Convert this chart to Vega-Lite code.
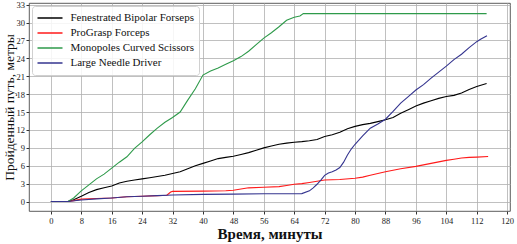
{
  "$schema": "https://vega.github.io/schema/vega-lite/v6.json",
  "autosize": {"type": "none"},
  "width": 481,
  "height": 208,
  "padding": {"left": 29, "top": 3, "right": 7, "bottom": 33},
  "background": "white",
  "config": {
    "font": "Liberation Serif",
    "view": {"stroke": "#333", "strokeWidth": 0.8},
    "axis": {
      "labelFont": "Liberation Serif",
      "titleFont": "Liberation Serif",
      "labelColor": "#222",
      "titleColor": "#111",
      "gridColor": "#b0b0b0",
      "gridWidth": 0.8,
      "gridOpacity": 1,
      "domain": false,
      "tickColor": "#333",
      "tickSize": 3,
      "labelFontSize": 8.5
    },
    "legend": {
      "labelFont": "Liberation Serif"
    }
  },
  "data": {
    "values": [
      {"s": "Fenestrated Bipolar Forseps", "t": 0, "d": 0},
      {"s": "Fenestrated Bipolar Forseps", "t": 4.5, "d": 0},
      {"s": "Fenestrated Bipolar Forseps", "t": 6, "d": 0.3},
      {"s": "Fenestrated Bipolar Forseps", "t": 8, "d": 0.9},
      {"s": "Fenestrated Bipolar Forseps", "t": 10, "d": 1.5},
      {"s": "Fenestrated Bipolar Forseps", "t": 12, "d": 2.0},
      {"s": "Fenestrated Bipolar Forseps", "t": 14, "d": 2.3},
      {"s": "Fenestrated Bipolar Forseps", "t": 16, "d": 2.6},
      {"s": "Fenestrated Bipolar Forseps", "t": 18, "d": 3.1},
      {"s": "Fenestrated Bipolar Forseps", "t": 20, "d": 3.4},
      {"s": "Fenestrated Bipolar Forseps", "t": 22, "d": 3.6},
      {"s": "Fenestrated Bipolar Forseps", "t": 24, "d": 3.8},
      {"s": "Fenestrated Bipolar Forseps", "t": 26, "d": 4.0},
      {"s": "Fenestrated Bipolar Forseps", "t": 28, "d": 4.2},
      {"s": "Fenestrated Bipolar Forseps", "t": 30, "d": 4.4},
      {"s": "Fenestrated Bipolar Forseps", "t": 32, "d": 4.7},
      {"s": "Fenestrated Bipolar Forseps", "t": 34, "d": 5.0},
      {"s": "Fenestrated Bipolar Forseps", "t": 36, "d": 5.5},
      {"s": "Fenestrated Bipolar Forseps", "t": 38, "d": 6.0},
      {"s": "Fenestrated Bipolar Forseps", "t": 40, "d": 6.4},
      {"s": "Fenestrated Bipolar Forseps", "t": 42, "d": 6.8},
      {"s": "Fenestrated Bipolar Forseps", "t": 44, "d": 7.2},
      {"s": "Fenestrated Bipolar Forseps", "t": 46, "d": 7.4},
      {"s": "Fenestrated Bipolar Forseps", "t": 48, "d": 7.6},
      {"s": "Fenestrated Bipolar Forseps", "t": 50, "d": 7.9},
      {"s": "Fenestrated Bipolar Forseps", "t": 52, "d": 8.2},
      {"s": "Fenestrated Bipolar Forseps", "t": 54, "d": 8.6},
      {"s": "Fenestrated Bipolar Forseps", "t": 56, "d": 9.0},
      {"s": "Fenestrated Bipolar Forseps", "t": 58, "d": 9.3},
      {"s": "Fenestrated Bipolar Forseps", "t": 60, "d": 9.6},
      {"s": "Fenestrated Bipolar Forseps", "t": 62, "d": 9.8},
      {"s": "Fenestrated Bipolar Forseps", "t": 64, "d": 9.95},
      {"s": "Fenestrated Bipolar Forseps", "t": 66, "d": 10.05},
      {"s": "Fenestrated Bipolar Forseps", "t": 68, "d": 10.2},
      {"s": "Fenestrated Bipolar Forseps", "t": 70, "d": 10.4},
      {"s": "Fenestrated Bipolar Forseps", "t": 72, "d": 10.9},
      {"s": "Fenestrated Bipolar Forseps", "t": 74, "d": 11.2},
      {"s": "Fenestrated Bipolar Forseps", "t": 76, "d": 11.6},
      {"s": "Fenestrated Bipolar Forseps", "t": 78, "d": 12.2},
      {"s": "Fenestrated Bipolar Forseps", "t": 80, "d": 12.6},
      {"s": "Fenestrated Bipolar Forseps", "t": 82, "d": 12.9},
      {"s": "Fenestrated Bipolar Forseps", "t": 84, "d": 13.1},
      {"s": "Fenestrated Bipolar Forseps", "t": 86, "d": 13.4},
      {"s": "Fenestrated Bipolar Forseps", "t": 88, "d": 13.7},
      {"s": "Fenestrated Bipolar Forseps", "t": 90, "d": 14.1},
      {"s": "Fenestrated Bipolar Forseps", "t": 92, "d": 14.8},
      {"s": "Fenestrated Bipolar Forseps", "t": 94, "d": 15.4},
      {"s": "Fenestrated Bipolar Forseps", "t": 96, "d": 16.0},
      {"s": "Fenestrated Bipolar Forseps", "t": 98, "d": 16.5},
      {"s": "Fenestrated Bipolar Forseps", "t": 100, "d": 16.9},
      {"s": "Fenestrated Bipolar Forseps", "t": 102, "d": 17.3},
      {"s": "Fenestrated Bipolar Forseps", "t": 104, "d": 17.6},
      {"s": "Fenestrated Bipolar Forseps", "t": 106, "d": 17.8},
      {"s": "Fenestrated Bipolar Forseps", "t": 108, "d": 18.2},
      {"s": "Fenestrated Bipolar Forseps", "t": 110, "d": 18.8},
      {"s": "Fenestrated Bipolar Forseps", "t": 112, "d": 19.3},
      {"s": "Fenestrated Bipolar Forseps", "t": 114.6, "d": 19.8},
      {"s": "ProGrasp Forceps", "t": 0, "d": 0},
      {"s": "ProGrasp Forceps", "t": 4.5, "d": 0},
      {"s": "ProGrasp Forceps", "t": 6, "d": 0.15},
      {"s": "ProGrasp Forceps", "t": 8, "d": 0.4},
      {"s": "ProGrasp Forceps", "t": 12, "d": 0.5},
      {"s": "ProGrasp Forceps", "t": 16, "d": 0.6},
      {"s": "ProGrasp Forceps", "t": 20, "d": 0.8},
      {"s": "ProGrasp Forceps", "t": 24, "d": 0.9},
      {"s": "ProGrasp Forceps", "t": 28, "d": 1.0},
      {"s": "ProGrasp Forceps", "t": 30.5, "d": 1.05},
      {"s": "ProGrasp Forceps", "t": 31.5, "d": 1.6},
      {"s": "ProGrasp Forceps", "t": 32, "d": 1.7},
      {"s": "ProGrasp Forceps", "t": 40, "d": 1.75},
      {"s": "ProGrasp Forceps", "t": 46, "d": 1.8},
      {"s": "ProGrasp Forceps", "t": 48, "d": 1.9},
      {"s": "ProGrasp Forceps", "t": 50, "d": 2.1},
      {"s": "ProGrasp Forceps", "t": 52, "d": 2.3},
      {"s": "ProGrasp Forceps", "t": 56, "d": 2.4},
      {"s": "ProGrasp Forceps", "t": 60, "d": 2.5},
      {"s": "ProGrasp Forceps", "t": 62, "d": 2.7},
      {"s": "ProGrasp Forceps", "t": 64, "d": 2.9},
      {"s": "ProGrasp Forceps", "t": 66, "d": 3.0},
      {"s": "ProGrasp Forceps", "t": 68, "d": 3.2},
      {"s": "ProGrasp Forceps", "t": 70, "d": 3.4},
      {"s": "ProGrasp Forceps", "t": 72, "d": 3.6},
      {"s": "ProGrasp Forceps", "t": 76, "d": 3.7},
      {"s": "ProGrasp Forceps", "t": 80, "d": 3.9},
      {"s": "ProGrasp Forceps", "t": 82, "d": 4.1},
      {"s": "ProGrasp Forceps", "t": 84, "d": 4.4},
      {"s": "ProGrasp Forceps", "t": 86, "d": 4.7},
      {"s": "ProGrasp Forceps", "t": 88, "d": 5.0},
      {"s": "ProGrasp Forceps", "t": 92, "d": 5.5},
      {"s": "ProGrasp Forceps", "t": 96, "d": 5.9},
      {"s": "ProGrasp Forceps", "t": 100, "d": 6.4},
      {"s": "ProGrasp Forceps", "t": 104, "d": 6.9},
      {"s": "ProGrasp Forceps", "t": 106, "d": 7.1},
      {"s": "ProGrasp Forceps", "t": 108, "d": 7.3},
      {"s": "ProGrasp Forceps", "t": 110, "d": 7.4},
      {"s": "ProGrasp Forceps", "t": 112, "d": 7.45},
      {"s": "ProGrasp Forceps", "t": 115, "d": 7.55},
      {"s": "Monopoles Curved Scissors", "t": 0, "d": 0},
      {"s": "Monopoles Curved Scissors", "t": 4.5, "d": 0},
      {"s": "Monopoles Curved Scissors", "t": 6, "d": 0.6},
      {"s": "Monopoles Curved Scissors", "t": 8, "d": 1.8},
      {"s": "Monopoles Curved Scissors", "t": 10, "d": 2.8},
      {"s": "Monopoles Curved Scissors", "t": 12, "d": 3.8},
      {"s": "Monopoles Curved Scissors", "t": 14, "d": 4.6},
      {"s": "Monopoles Curved Scissors", "t": 16, "d": 5.6},
      {"s": "Monopoles Curved Scissors", "t": 18, "d": 6.6},
      {"s": "Monopoles Curved Scissors", "t": 20, "d": 7.5},
      {"s": "Monopoles Curved Scissors", "t": 22, "d": 8.9},
      {"s": "Monopoles Curved Scissors", "t": 24, "d": 10.0},
      {"s": "Monopoles Curved Scissors", "t": 26, "d": 11.2},
      {"s": "Monopoles Curved Scissors", "t": 28, "d": 12.3},
      {"s": "Monopoles Curved Scissors", "t": 30, "d": 13.3},
      {"s": "Monopoles Curved Scissors", "t": 32, "d": 14.1},
      {"s": "Monopoles Curved Scissors", "t": 34, "d": 15.0},
      {"s": "Monopoles Curved Scissors", "t": 36, "d": 17.0},
      {"s": "Monopoles Curved Scissors", "t": 38, "d": 18.9},
      {"s": "Monopoles Curved Scissors", "t": 40, "d": 21.2},
      {"s": "Monopoles Curved Scissors", "t": 42, "d": 21.9},
      {"s": "Monopoles Curved Scissors", "t": 44, "d": 22.4},
      {"s": "Monopoles Curved Scissors", "t": 46, "d": 23.0},
      {"s": "Monopoles Curved Scissors", "t": 48, "d": 23.6},
      {"s": "Monopoles Curved Scissors", "t": 50, "d": 24.3},
      {"s": "Monopoles Curved Scissors", "t": 52, "d": 25.2},
      {"s": "Monopoles Curved Scissors", "t": 54, "d": 26.3},
      {"s": "Monopoles Curved Scissors", "t": 56, "d": 27.4},
      {"s": "Monopoles Curved Scissors", "t": 58, "d": 28.3},
      {"s": "Monopoles Curved Scissors", "t": 60, "d": 29.3},
      {"s": "Monopoles Curved Scissors", "t": 62, "d": 30.4},
      {"s": "Monopoles Curved Scissors", "t": 64, "d": 30.9},
      {"s": "Monopoles Curved Scissors", "t": 65.5, "d": 31.1},
      {"s": "Monopoles Curved Scissors", "t": 66.4, "d": 31.5},
      {"s": "Monopoles Curved Scissors", "t": 114.6, "d": 31.5},
      {"s": "Large Needle Driver", "t": 0, "d": 0},
      {"s": "Large Needle Driver", "t": 4.5, "d": 0},
      {"s": "Large Needle Driver", "t": 8, "d": 0.25},
      {"s": "Large Needle Driver", "t": 12, "d": 0.45},
      {"s": "Large Needle Driver", "t": 16, "d": 0.6},
      {"s": "Large Needle Driver", "t": 20, "d": 0.8},
      {"s": "Large Needle Driver", "t": 24, "d": 0.9},
      {"s": "Large Needle Driver", "t": 28, "d": 1.0},
      {"s": "Large Needle Driver", "t": 32, "d": 1.1},
      {"s": "Large Needle Driver", "t": 40, "d": 1.2},
      {"s": "Large Needle Driver", "t": 48, "d": 1.25},
      {"s": "Large Needle Driver", "t": 56, "d": 1.3},
      {"s": "Large Needle Driver", "t": 66, "d": 1.33},
      {"s": "Large Needle Driver", "t": 68, "d": 1.8},
      {"s": "Large Needle Driver", "t": 69, "d": 2.3},
      {"s": "Large Needle Driver", "t": 70, "d": 2.9},
      {"s": "Large Needle Driver", "t": 71, "d": 3.6},
      {"s": "Large Needle Driver", "t": 72, "d": 4.4},
      {"s": "Large Needle Driver", "t": 73, "d": 4.8},
      {"s": "Large Needle Driver", "t": 74, "d": 5.0},
      {"s": "Large Needle Driver", "t": 75, "d": 5.3},
      {"s": "Large Needle Driver", "t": 76, "d": 5.7},
      {"s": "Large Needle Driver", "t": 77, "d": 6.6},
      {"s": "Large Needle Driver", "t": 78, "d": 7.8},
      {"s": "Large Needle Driver", "t": 79, "d": 8.8},
      {"s": "Large Needle Driver", "t": 80, "d": 9.6},
      {"s": "Large Needle Driver", "t": 82, "d": 11.0},
      {"s": "Large Needle Driver", "t": 84, "d": 12.3},
      {"s": "Large Needle Driver", "t": 86, "d": 13.0},
      {"s": "Large Needle Driver", "t": 88, "d": 13.8},
      {"s": "Large Needle Driver", "t": 90, "d": 15.1},
      {"s": "Large Needle Driver", "t": 92, "d": 16.5},
      {"s": "Large Needle Driver", "t": 94, "d": 17.6},
      {"s": "Large Needle Driver", "t": 96, "d": 18.7},
      {"s": "Large Needle Driver", "t": 98, "d": 19.6},
      {"s": "Large Needle Driver", "t": 100, "d": 20.7},
      {"s": "Large Needle Driver", "t": 102, "d": 21.7},
      {"s": "Large Needle Driver", "t": 104, "d": 22.7},
      {"s": "Large Needle Driver", "t": 106, "d": 23.8},
      {"s": "Large Needle Driver", "t": 108, "d": 24.7},
      {"s": "Large Needle Driver", "t": 110, "d": 25.8},
      {"s": "Large Needle Driver", "t": 112, "d": 26.8},
      {"s": "Large Needle Driver", "t": 113, "d": 27.2},
      {"s": "Large Needle Driver", "t": 114.7, "d": 27.8}
    ]
  },
  "mark": {"type": "line", "strokeWidth": 1.1, "clip": true},
  "encoding": {
    "x": {
      "field": "t",
      "type": "quantitative",
      "scale": {"domain": [-5.75, 120.75], "nice": false, "zero": false},
      "axis": {
        "values": [0, 8, 16, 24, 32, 40, 48, 56, 64, 72, 80, 88, 96, 104, 112, 120],
        "title": "Время, минуты",
        "titleFontSize": 15,
        "titleFontWeight": "bold",
        "titlePadding": 2,
        "labelPadding": 2,
        "labelFlush": false
      }
    },
    "y": {
      "field": "d",
      "type": "quantitative",
      "scale": {"domain": [-1.585, 33.285], "nice": false, "zero": false},
      "axis": {
        "values": [0, 3, 6, 9, 12, 15, 18, 21, 24, 27, 30, 33],
        "title": "Пройденный путь, метры",
        "titleFontSize": 13.5,
        "titleFontWeight": "normal",
        "titlePadding": 0,
        "labelPadding": 1.5,
        "labelFlush": false
      }
    },
    "color": {
      "field": "s",
      "type": "nominal",
      "scale": {
        "domain": ["Fenestrated Bipolar Forseps", "ProGrasp Forceps", "Monopoles Curved Scissors", "Large Needle Driver"],
        "range": ["#000000", "#ff1a1a", "#2e9a4a", "#34348f"]
      },
      "legend": {
        "title": null,
        "orient": "top-left",
        "offset": 3,
        "padding": 4.5,
        "symbolType": "stroke",
        "symbolSize": 625,
        "symbolStrokeWidth": 1.6,
        "labelFont": "Liberation Serif",
        "labelFontSize": 11,
        "labelColor": "#111",
        "labelOffset": 7,
        "labelLimit": 300,
        "clipHeight": 15,
        "rowPadding": 0,
        "fillColor": "rgba(255,255,255,0.85)",
        "strokeColor": "#d0d0d0",
        "cornerRadius": 3
      }
    }
  }
}
